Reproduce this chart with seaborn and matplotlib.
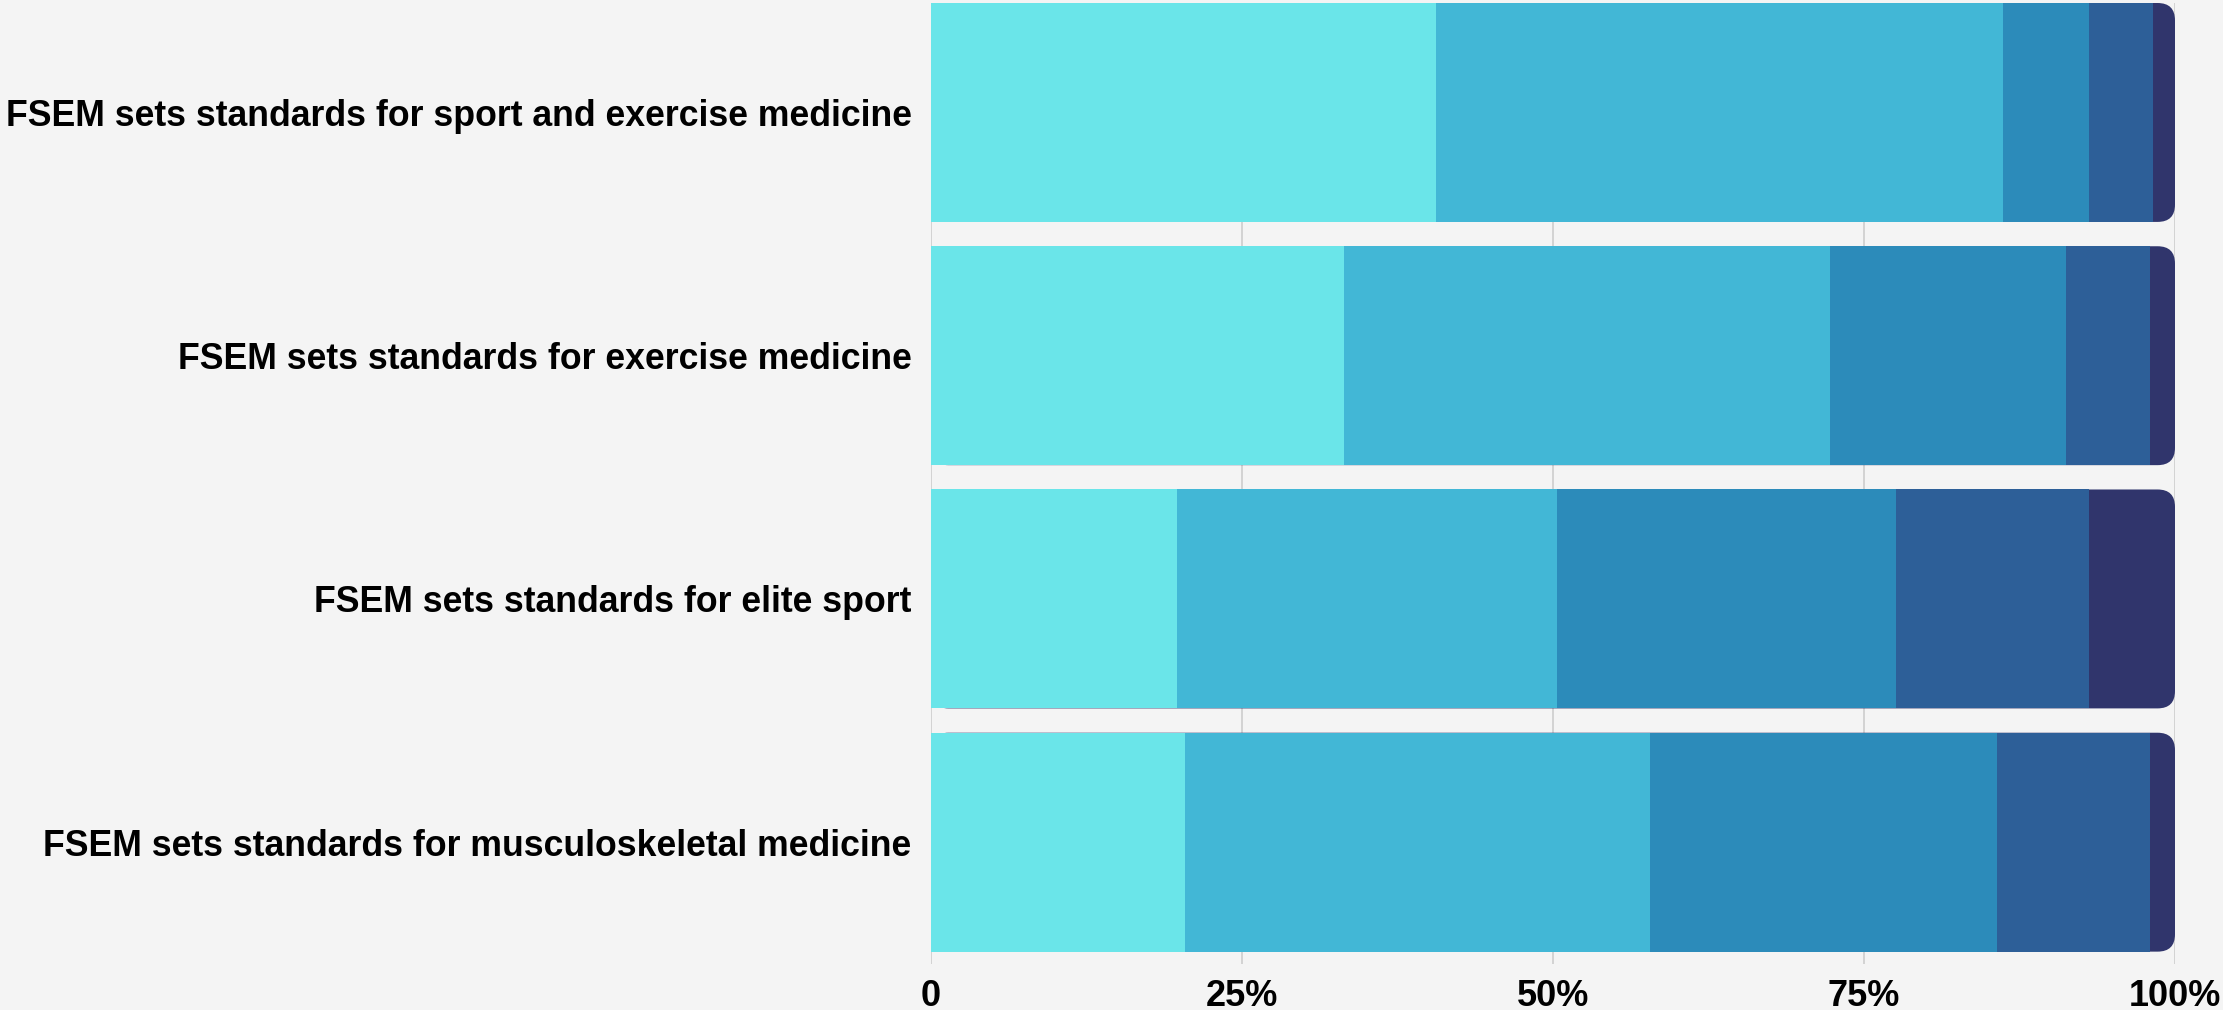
import numpy as np
import pandas as pd
import seaborn as sns
import matplotlib.pyplot as plt
from matplotlib.patches import FancyBboxPatch

# statements (rows, top to bottom)
statements = ["FSEM sets standards for sport and exercise medicine",
              "FSEM sets standards for exercise medicine",
              "FSEM sets standards for elite sport",
              "FSEM sets standards for musculoskeletal medicine"]

# response shares in percent, one list per answer level
level_1 = [40.6, 33.2, 19.8, 20.4]
level_2 = [45.6, 39.1, 30.5, 37.4]
level_3 = [6.9, 18.9, 27.3, 27.9]
level_4 = [5.1, 6.8, 15.5, 12.3]
level_5 = [1.8, 2.0, 6.9, 2.0]

level_colors = ["#6AE5E9", "#42B7D6", "#2C8BBA", "#2D5F98", "#30356C"]

tick_values = [0, 25, 50, 75, 100]
tick_labels = ["0", "25%", "50%", "75%", "100%"]

bg = "#F4F4F4"

sns.set_style("white")
plt.rcParams["font.family"] = ["Liberation Sans", "DejaVu Sans"]

df = pd.DataFrame({"statement": statements, "l1": level_1, "l2": level_2,
                   "l3": level_3, "l4": level_4, "l5": level_5})
levels = ["l1", "l2", "l3", "l4", "l5"]
cum = df[levels].cumsum(axis=1)

fig = plt.figure(figsize=(22.23, 10.10), dpi=100, facecolor=bg)
ax = fig.add_axes([931 / 2223, 1 - 963.8 / 1010, 1244 / 2223, 960.8 / 1010])
ax.set_facecolor(bg)

# draw stacked bars back to front (largest cumulative first)
for i in range(len(levels) - 1, -1, -1):
    n_before = len(ax.patches)
    sns.barplot(x=cum[levels[i]], y=df["statement"], color=level_colors[i],
                saturation=1, width=0.9, orient="h", ax=ax, zorder=2,
                linewidth=0, edgecolor="none")
    if i == len(levels) - 1:
        # round the right end of the full bars
        new = ax.patches[n_before:]
        for p in new:
            fb = FancyBboxPatch((p.get_x(), p.get_y()), p.get_width(), p.get_height(),
                                boxstyle="round,pad=0,rounding_size=1.4",
                                mutation_aspect=12.44 / 243,
                                facecolor=level_colors[i], edgecolor="none",
                                linewidth=0, zorder=2)
            p.remove()
            ax.add_patch(fb)

ax.set_xlim(0, 100)
ax.set_ylim(3.5, -0.45)
ax.set_axisbelow(True)
ax.set_xticks(tick_values)
ax.set_xticklabels(tick_labels)
ax.grid(axis="x", color="#D0D0D0", linewidth=1.3, zorder=0)
ax.grid(axis="y", visible=False)
ax.tick_params(axis="y", length=0, labelsize=25.7, pad=14)
ax.tick_params(axis="x", length=0, labelsize=26, pad=11)
for lab in ax.get_xticklabels() + ax.get_yticklabels():
    lab.set_fontweight("bold")
    lab.set_color("black")
ax.set_xlabel("")
ax.set_ylabel("")
for s in ax.spines.values():
    s.set_visible(False)

plt.savefig("out.png", dpi=100, facecolor=bg)
plt.close()
